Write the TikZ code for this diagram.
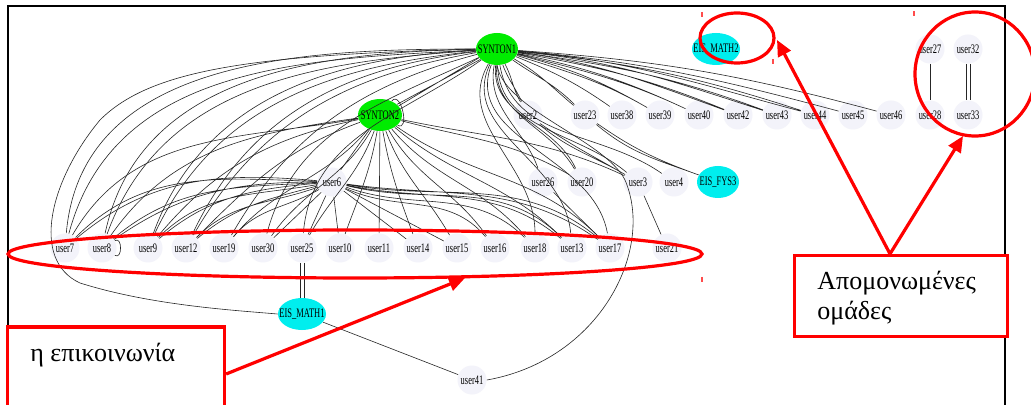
\documentclass[tikz,border=0pt]{standalone}
\usepackage{fontspec}
\setmainfont{Liberation Serif}
\newfontfamily\lblfont[FakeStretch=0.65]{Liberation Serif}
\usetikzlibrary{positioning,shapes.geometric,arrows.meta}
\definecolor{usrbg}{RGB}{243,243,250}
\definecolor{hubgreen}{RGB}{0,236,0}
\definecolor{coursecyan}{RGB}{0,238,238}

\begin{document}
\begin{tikzpicture}[
    x=0.5pt, y=-0.5pt,
    usr/.style={circle, fill=usrbg, minimum size=14.5pt, inner sep=0pt, font=\lblfont\fontsize{6.5}{7}\selectfont},
    hub/.style={ellipse, fill=hubgreen, minimum width=21pt, minimum height=16pt, inner xsep=-3pt, inner ysep=0pt, font=\lblfont\fontsize{6.5}{7}\selectfont},
    course/.style={ellipse, fill=coursecyan, minimum width=24pt, minimum height=16pt, inner xsep=-3pt, inner ysep=0pt, font=\lblfont\fontsize{6.5}{7}\selectfont},
    edge/.style={draw, line width=0.3pt, black!85},
    ring/.style={draw=red, line width=1.6pt},
    callout/.style={draw=red, line width=1.6pt, fill=white, inner sep=0pt},
    pointer/.style={draw=red, line width=1.6pt, -{Triangle[length=8pt,width=7pt]}},
    handle/.style={draw=red!70, line width=0.6pt},
    note/.style={font=\fontsize{13}{15}\selectfont, align=left, inner sep=0pt}
]

\useasboundingbox (0,0) rectangle (1031,405);
\fill[white] (0,0) rectangle (1031,405);

% frame of the screenshot
\draw[line width=1pt] (8,430) -- (8,6) -- (1005,6) -- (1005,430);

% hubs and courses
\node[hub] (S1) at (497,49) {SYNTON1};
\node[hub, minimum width=22pt] (S2) at (380,115) {SYNTON2};
\node[course] (EM2) at (716,49) {EIS\_MATH2};
\node[course, minimum width=21pt] (EF3) at (718,182) {EIS\_FYS3};
\node[course] (EM1) at (302,314) {EIS\_MATH1};

% upper row
\node[usr] (u27) at (930,49) {user27};
\node[usr] (u32) at (968,49) {user32};
\node[usr] (u2) at (528,115) {user2};
\node[usr] (u23) at (585,115) {user23};
\node[usr] (u38) at (622,115) {user38};
\node[usr] (u39) at (660,115) {user39};
\node[usr] (u40) at (699,115) {user40};
\node[usr] (u42) at (738,115) {user42};
\node[usr] (u43) at (777,115) {user43};
\node[usr] (u44) at (815,115) {user44};
\node[usr] (u45) at (853,115) {user45};
\node[usr] (u46) at (891,115) {user46};
\node[usr] (u28) at (930,115) {user28};
\node[usr] (u33) at (968,115) {user33};

% middle row
\node[usr] (u6) at (332,182) {user6};
\node[usr] (u26) at (543,182) {user26};
\node[usr] (u20) at (582,182) {user20};
\node[usr] (u3) at (638,182) {user3};
\node[usr] (u4) at (674,182) {user4};

% lower row
\node[usr] (u7) at (65,248) {user7};
\node[usr] (u8) at (102,248) {user8};
\node[usr] (u9) at (148,248) {user9};
\node[usr] (u12) at (186,248) {user12};
\node[usr] (u19) at (224,248) {user19};
\node[usr] (u30) at (263,248) {user30};
\node[usr] (u25) at (302,248) {user25};
\node[usr] (u10) at (340,248) {user10};
\node[usr] (u11) at (379,248) {user11};
\node[usr] (u14) at (418,248) {user14};
\node[usr] (u15) at (457,248) {user15};
\node[usr] (u16) at (495,248) {user16};
\node[usr] (u18) at (535,248) {user18};
\node[usr] (u13) at (572,248) {user13};
\node[usr] (u17) at (610,248) {user17};
\node[usr] (u21) at (667,248) {user21};
\node[usr] (u41) at (472,380) {user41};

% SYNTON1 to the upper row
\draw[edge] (S1) to[out=-70,in=115] (u2) (S1) to[out=-62,in=120] (u2);
\draw[edge] (S1) to[out=-35,in=135] (u23) (S1) to[out=-30,in=140] (u23);
\draw[edge] (S1) to[out=-22,in=145] (u38);
\draw[edge] (S1) to[out=-18,in=150] (u39) (S1) to[out=-15,in=150] (u39);
\draw[edge] (S1) to[out=-14,in=155] (u40) (S1) to[out=-12,in=155] (u40);
\draw[edge] (S1) to[out=-10,in=158] (u42) (S1) to[out=-8,in=160] (u42);
\draw[edge] (S1) to[out=-8,in=160] (u43) (S1) to[out=-6,in=162] (u43);
\draw[edge] (S1) to[out=-6,in=162] (u44) (S1) to[out=-5,in=165] (u44);
\draw[edge] (S1) to[out=-5,in=165] (u45);
\draw[edge] (S1) to[out=-4,in=165] (u46);

% SYNTON1 to the left part
\draw[edge] (S1) to[out=183,in=75] (u7) (S1) to[out=180,in=85] (u7);
\draw[edge] (S1) to[out=184,in=70] (u8) (S1) to[out=181,in=78] (u8);
\draw[edge] (S1) to[out=186,in=65] (u9) (S1) to[out=183,in=70] (u9);
\draw[edge] (S1) to[out=190,in=60] (u12) (S1) to[out=187,in=65] (u12);
\draw[edge] (S1) to[out=195,in=60] (u19);
\draw[edge] (S1) to[out=205,in=75] (u30);
\draw[edge] (S1) to[out=215,in=85] (u25);
\draw[edge] (S1.west) .. controls (250,55) and (150,70) .. (100,120)
    .. controls (50,180) and (30,260) .. (80,283)
    .. controls (150,305) and (230,310) .. (EM1.west);

% SYNTON1 downwards
\draw[edge] (S1.206) -- (S2.26) (S1.212) -- (S2.32);
\draw[edge] (S1) to[out=-100,in=110] (u26);
\draw[edge] (S1) to[out=-95,in=115] (u20) (S1) to[out=-92,in=120] (u20);
\draw[edge] (S1) to[out=-88,in=140] (u3) (S1) to[out=-80,in=145] (u4);
\draw[edge] (S1) to[out=-110,in=100] (u17) (S1) to[out=-115,in=95] (u13);
\draw[edge] (S1) to[out=-120,in=90] (u18);
\draw[edge] (u41.east) .. controls (600,360) and (655,250) .. (625,180)
    .. controls (605,140) and (505,110) .. (S1.south);

% SYNTON2
\draw[edge] (S2) to[out=50,in=-30,looseness=1.5] (S2);
\draw[edge] (S2) -- (u11);
\draw[edge] (S2) -- (u6);
\draw[edge] (S2) to[out=-100,in=70] (u10);
\draw[edge] (S2) to[out=-80,in=110] (u14);
\draw[edge] (S2) to[out=-70,in=120] (u15);
\draw[edge] (S2) to[out=-60,in=125] (u16);
\draw[edge] (S2) to[out=-50,in=130] (u18);
\draw[edge] (S2) to[out=-40,in=135] (u13);
\draw[edge] (S2) to[out=-35,in=135] (u17);
\draw[edge] (S2) to[out=-110,in=60] (u25);
\draw[edge] (S2) to[out=-120,in=55] (u30);
\draw[edge] (S2) to[out=-130,in=50] (u19);
\draw[edge] (S2) to[out=190,in=60] (u7) (S2) to[out=188,in=55] (u8);
\draw[edge] (S2) to[out=192,in=50] (u9) (S2) to[out=200,in=45] (u12);
\draw[edge] (S2) to[out=-15,in=150] (u20) (S2) to[out=-12,in=155] (u3);

% user6
\draw[edge] (u6) to[out=175,in=40] (u7) (u6) to[out=178,in=45] (u7);
\draw[edge] (u6) to[out=180,in=35] (u8) (u6) to[out=183,in=40] (u8);
\draw[edge] (u6) to[out=185,in=40] (u9) (u6) to[out=190,in=45] (u9);
\draw[edge] (u6) to[out=195,in=40] (u12) (u6) to[out=200,in=45] (u12);
\draw[edge] (u6) to[out=210,in=50] (u19);
\draw[edge] (u6) -- (u30) (u6) -- (u25) (u6) -- (u10);
\draw[edge] (u6) -- (u14) (u6) -- (u15);
\draw[edge] (u6) to[out=-25,in=130] (u16);
\draw[edge] (u6) to[out=-20,in=135] (u18);
\draw[edge] (u6) to[out=-12,in=140] (u13) (u6) to[out=-14,in=135] (u13);
\draw[edge] (u6) to[out=-8,in=145] (u17) (u6) to[out=-10,in=140] (u17);

% the rest
\draw[edge] (u2) to[out=-40,in=150] (u3) (u2) to[out=-35,in=150] (u3);
\draw[edge] (u23) to[out=-40,in=160] (EF3) (u23) to[out=-35,in=160] (EF3);
\draw[edge] (u26) -- (u17);
\draw[edge] (u3) -- (u21);
\draw[edge] (u8) to[out=30,in=-30,looseness=1.5] (u8);
\draw[edge] ([xshift=-1pt]u25.south) -- ([xshift=-1pt]EM1.north) ([xshift=1pt]u25.south) -- ([xshift=1pt]EM1.north);
\draw[edge] (EM1) -- (u41);
\draw[edge] (u27) -- (u28);
\draw[edge] ([xshift=-1pt]u32.south) -- ([xshift=-1pt]u33.north) ([xshift=1pt]u32.south) -- ([xshift=1pt]u33.north);

% red marks
\draw[ring] (355,254) ellipse [x radius=347, y radius=24];
\draw[ring] (737,38) ellipse [x radius=37, y radius=25];
\draw[ring] (975,74) ellipse [x radius=60, y radius=62];
\draw[handle] (702,12) -- (702,17) (773,59) -- (773,64) (914,11) -- (914,16) (702,277) -- (702,282);

\node[callout, minimum width=108.5pt, minimum height=47pt] (box1) at (116,374) {};
\node[note, anchor=west] (txt1) at (30,355) {η επικοινωνία};
\node[callout, minimum width=106.5pt, minimum height=40.5pt] (box2) at (901,296) {};
\node[note, anchor=west] (txt2) at (817,298) {Απομονωμένες\\ομάδες};

\coordinate (tip1) at (465,278);
\coordinate (tip2) at (777,40);
\coordinate (tip3) at (963,136);
\draw[pointer] (box1.east) -- (tip1);
\draw[pointer] ([xshift=-5.5pt]box2.north) -- (tip2);
\draw[pointer] ([xshift=-5.5pt]box2.north) -- (tip3);

\end{tikzpicture}
\end{document}
